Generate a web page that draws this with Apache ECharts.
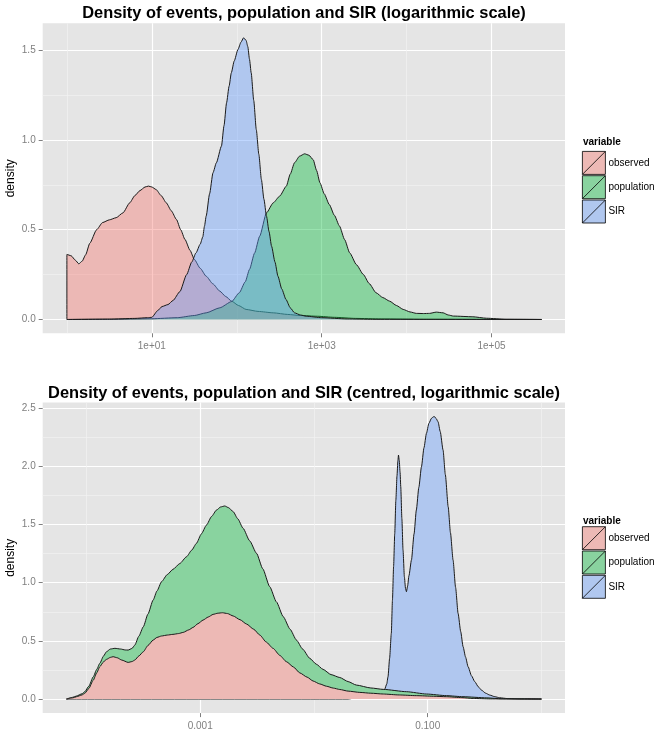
<!DOCTYPE html>
<html><head><meta charset="utf-8">
<script src="https://cdn.jsdelivr.net/npm/echarts@6/dist/echarts.min.js"></script>
<style>html,body{margin:0;padding:0;background:#fff}#c{width:661px;height:732px}</style>
</head><body><div id="c"></div>
<script>
// ---------- DATA ----------
const seriesNames = ['observed', 'population', 'SIR'];
const topTitle = 'Density of events, population and SIR (logarithmic scale)';
const bottomTitle = 'Density of events, population and SIR (centred, logarithmic scale)';
const legendTitle = 'variable';
const yName = 'density';

// Top chart: x = log10(value)
const topObservedX = [0,0,0.05,0.1,0.14,0.18,0.22,0.27,0.35,0.42,0.5,0.58,0.66,0.74,0.8,0.86,0.92,0.96,1.0,1.05,1.11,1.17,1.23,1.29,1.34,1.39,1.45,1.5,1.57,1.64,1.72,1.8,1.87,1.94,2.02,2.11,2.25,2.43,2.6,2.75,2.95,3.15,3.4,3.7,4.2,5.59];
const topObservedY = [0,0.362,0.355,0.33,0.31,0.325,0.36,0.425,0.5,0.54,0.555,0.567,0.594,0.65,0.69,0.718,0.738,0.743,0.738,0.724,0.69,0.65,0.605,0.557,0.5,0.446,0.385,0.335,0.285,0.241,0.198,0.158,0.128,0.102,0.078,0.056,0.045,0.037,0.028,0.022,0.018,0.012,0.006,0.003,0.001,0];
const topPopulationX = [0,0.5,1.0,1.3,1.5,1.64,1.8,1.94,2.03,2.1,2.15,2.21,2.27,2.35,2.43,2.505,2.584,2.63,2.68,2.74,2.8,2.85,2.9,2.94,2.98,3.03,3.09,3.15,3.21,3.27,3.33,3.41,3.49,3.56,3.64,3.72,3.8,3.88,3.96,4.04,4.115,4.2,4.27,4.35,4.43,4.49,4.55,4.78,4.94,5.17,5.59];
const topPopulationY = [0,0.001,0.004,0.01,0.022,0.037,0.065,0.1,0.149,0.21,0.279,0.37,0.464,0.594,0.65,0.687,0.743,0.81,0.873,0.91,0.923,0.915,0.89,0.83,0.761,0.7,0.64,0.58,0.52,0.445,0.371,0.305,0.251,0.2,0.149,0.122,0.102,0.078,0.056,0.042,0.034,0.033,0.034,0.041,0.037,0.025,0.019,0.015,0.007,0.001,0];
const topSirX = [0,0.5,0.8,0.95,1.0,1.07,1.12,1.19,1.25,1.33,1.41,1.47,1.52,1.57,1.6,1.62,1.64,1.68,1.72,1.76,1.82,1.85,1.88,1.91,1.936,1.97,2.014,2.05,2.08,2.11,2.13,2.15,2.17,2.2,2.23,2.26,2.29,2.32,2.35,2.38,2.41,2.45,2.485,2.53,2.58,2.63,2.68,2.75,2.82,3.0,3.3,3.6,5.59];
const topSirY = [0,0.002,0.006,0.01,0.012,0.05,0.072,0.083,0.106,0.155,0.25,0.32,0.371,0.42,0.46,0.52,0.576,0.7,0.817,0.873,0.966,1.08,1.207,1.3,1.374,1.44,1.504,1.545,1.569,1.555,1.52,1.45,1.374,1.22,1.058,0.92,0.78,0.67,0.576,0.49,0.408,0.32,0.241,0.17,0.111,0.065,0.037,0.025,0.018,0.01,0.003,0.001,0];

// Bottom chart (stacked densities, upper outline of each layer): x = log10(value)
const bottomObservedX = [-4.176,-4.12,-4.088,-4.04,-4.015,-3.98,-3.94,-3.91,-3.883,-3.85,-3.824,-3.79,-3.766,-3.73,-3.69,-3.634,-3.6,-3.575,-3.54,-3.5,-3.46,-3.414,-3.38,-3.34,-3.29,-3.24,-3.19,-3.15,-3.1,-3.063,-3.02,-2.975,-2.93,-2.887,-2.845,-2.805,-2.76,-2.71,-2.65,-2.593,-2.53,-2.476,-2.42,-2.36,-2.3,-2.242,-2.18,-2.125,-2.06,-2.008,-1.95,-1.89,-1.83,-1.773,-1.7,-1.597,-1.5,-1.39,-1.25,-1.1,-0.95,-0.835,-0.7,-0.6,-0.45,0];
const bottomObservedY = [0,0.01,0.02,0.035,0.049,0.09,0.163,0.225,0.278,0.32,0.341,0.358,0.364,0.355,0.335,0.315,0.322,0.335,0.37,0.407,0.46,0.507,0.53,0.542,0.55,0.556,0.563,0.573,0.595,0.616,0.648,0.679,0.705,0.728,0.738,0.742,0.735,0.714,0.682,0.645,0.6,0.55,0.49,0.436,0.375,0.321,0.275,0.225,0.188,0.155,0.13,0.11,0.094,0.082,0.068,0.057,0.05,0.043,0.035,0.029,0.024,0.02,0.012,0.005,0.001,0];
const bottomPopulationX = [-4.176,-4.12,-4.088,-4.04,-4.015,-3.98,-3.94,-3.91,-3.883,-3.85,-3.824,-3.79,-3.75,-3.7,-3.66,-3.634,-3.6,-3.575,-3.54,-3.5,-3.46,-3.414,-3.38,-3.34,-3.29,-3.24,-3.18,-3.12,-3.075,-3.033,-2.99,-2.945,-2.9,-2.857,-2.82,-2.784,-2.75,-2.71,-2.67,-2.623,-2.565,-2.505,-2.45,-2.389,-2.33,-2.27,-2.21,-2.154,-2.1,-2.037,-1.98,-1.92,-1.85,-1.773,-1.7,-1.627,-1.5,-1.39,-1.187,-1.01,-0.835,-0.69,-0.48,-0.35,0];
const bottomPopulationY = [0,0.015,0.026,0.045,0.063,0.11,0.192,0.255,0.307,0.37,0.407,0.43,0.436,0.43,0.422,0.421,0.435,0.464,0.54,0.622,0.73,0.851,0.93,1.009,1.07,1.115,1.165,1.224,1.28,1.339,1.42,1.496,1.57,1.625,1.652,1.66,1.645,1.611,1.55,1.468,1.36,1.253,1.12,0.966,0.835,0.708,0.6,0.507,0.43,0.35,0.3,0.255,0.21,0.185,0.15,0.12,0.095,0.083,0.063,0.043,0.029,0.02,0.01,0.002,0];
const bottomSirX = [-4.176,-1.7,-1.42,-1.38,-1.36,-1.349,-1.335,-1.32,-1.31,-1.3,-1.29,-1.28,-1.27,-1.262,-1.257,-1.25,-1.243,-1.237,-1.227,-1.217,-1.205,-1.195,-1.187,-1.177,-1.165,-1.143,-1.12,-1.1,-1.078,-1.055,-1.033,-1.011,-0.99,-0.967,-0.95,-0.938,-0.925,-0.909,-0.89,-0.865,-0.845,-0.82,-0.8,-0.777,-0.755,-0.733,-0.71,-0.689,-0.667,-0.645,-0.615,-0.586,-0.555,-0.528,-0.49,-0.455,-0.41,-0.367,-0.3,-0.2,0];
const bottomSirY = [0,0,0.075,0.08,0.13,0.192,0.35,0.565,0.85,1.138,1.42,1.711,1.92,2.05,2.098,2.05,1.95,1.826,1.55,1.281,1.05,0.95,0.923,0.97,1.06,1.195,1.42,1.625,1.82,1.997,2.16,2.285,2.37,2.414,2.427,2.427,2.41,2.384,2.3,2.141,1.93,1.653,1.43,1.195,0.96,0.737,0.58,0.45,0.36,0.278,0.2,0.149,0.105,0.077,0.05,0.034,0.02,0.011,0.004,0.001,0];

// Axis ticks
const topXTickValues = [1, 3, 5];
const topXTickLabels = ['1e+01', '1e+03', '1e+05'];
const topXMinorValues = [0, 2, 4];
const topYTickValues = [0, 0.5, 1, 1.5];
const topYMinorValues = [0.25, 0.75, 1.25];
const bottomXTickValues = [-3, -1];
const bottomXTickLabels = ['0.001', '0.100'];
const bottomXMinorValues = [-4, -2, 0];
const bottomYTickValues = [0, 0.5, 1, 1.5, 2, 2.5];
const bottomYMinorValues = [0.25, 0.75, 1.25, 1.75, 2.25];

// ---------- STYLE ----------
const alphaFills = ['rgba(248,118,109,0.4)', 'rgba(0,186,56,0.4)', 'rgba(97,156,255,0.4)'];
const solidFills = ['#EDB9B5', '#89D39F', '#B0C7EF'];
const FONT = '"Liberation Sans", Arial, sans-serif';
const GRID_L = 42.7, GRID_W = 522.3;
const TOP_T = 23.3, TOP_H = 310, BOT_T = 402.6, BOT_H = 310.5;

function zip(xs, ys) { return xs.map((x, i) => [x, ys[i]]); }

function majorAxis(gridIndex, min, max, ticks, labelFn, isY) {
  return {
    type: 'value', gridIndex, min, max, scale: false,
    position: isY ? 'left' : 'bottom',
    axisLine: { show: false, onZero: false },
    axisTick: { show: true, length: 4, customValues: ticks, lineStyle: { color: '#7F7F7F', width: 1 } },
    axisLabel: { show: true, customValues: ticks, margin: isY ? 7 : 8, color: '#7F7F7F', fontSize: 10, fontFamily: FONT, formatter: labelFn, hideOverlap: false, showMinLabel: true, showMaxLabel: true },
    splitLine: { show: true, lineStyle: { color: '#FFFFFF', width: 1.2 } }
  };
}
function minorAxis(gridIndex, min, max, ticks, isY) {
  return {
    type: 'value', gridIndex, min, max,
    position: isY ? 'left' : 'bottom',
    axisLine: { show: false, onZero: false },
    axisTick: { show: false, customValues: ticks },
    axisLabel: { show: false, customValues: ticks },
    splitLine: { show: true, lineStyle: { color: '#F2F2F2', width: 0.7 } },
    z: 0
  };
}

const xLab = (vals, labs) => (v) => { const i = vals.findIndex(t => Math.abs(t - v) < 1e-6); return i >= 0 ? labs[i] : ''; };
const yLab = (v) => v.toFixed(1);

const topData = [zip(topObservedX, topObservedY), zip(topPopulationX, topPopulationY), zip(topSirX, topSirY)];
const bottomData = [zip(bottomObservedX, bottomObservedY), zip(bottomPopulationX, bottomPopulationY), zip(bottomSirX, bottomSirY)];

const series = [];
seriesNames.forEach((n, i) => {
  series.push({
    type: 'line', name: n, xAxisIndex: 0, yAxisIndex: 0, data: topData[i],
    showSymbol: false, symbol: 'none', smooth: 0.2, smoothMonotone: 'x',
    lineStyle: { color: '#1a1a1a', width: 1 },
    itemStyle: { color: alphaFills[i] },
    areaStyle: { color: alphaFills[i], opacity: 1 },
    emphasis: { disabled: true }, silent: true, z: 2 + i
  });
});
// stacked look: draw the outer (SIR) layer first, then population, then observed
[2, 1, 0].forEach((i, k) => {
  series.push({
    type: 'line', name: seriesNames[i], xAxisIndex: 2, yAxisIndex: 2, data: bottomData[i],
    showSymbol: false, symbol: 'none', smooth: 0.2, smoothMonotone: 'x',
    lineStyle: { color: '#1a1a1a', width: 1 },
    itemStyle: { color: solidFills[i] },
    areaStyle: { color: solidFills[i], opacity: 1 },
    emphasis: { disabled: true }, silent: true, z: 2 + k
  });
});

const legendIcon = 'path://M0,0L24,0L24,24L0,24ZM0,24L24,0';
function makeLegend(top) {
  return {
    orient: 'vertical', left: 582, top, padding: 0, itemGap: 0.5,
    itemWidth: 23, itemHeight: 23, icon: legendIcon, selectedMode: false,
    textStyle: { fontSize: 10, color: '#000', fontFamily: FONT, padding: [0, 0, 0, -2] },
    data: seriesNames.map((n, i) => ({ name: n, itemStyle: { color: solidFills[i], borderColor: '#000', borderWidth: 0.8 } }))
  };
}

function txt(text, x, y, font, align, rotation) {
  return { type: 'text', x, y, rotation: rotation || 0, silent: true,
    style: { text, font, fill: '#000', align, verticalAlign: 'middle', textAlign: align, textVerticalAlign: 'middle' } };
}

const option = {
  animation: false,
  backgroundColor: '#FFFFFF',
  grid: [
    { left: GRID_L, top: TOP_T, width: GRID_W, height: TOP_H, show: true, backgroundColor: '#E5E5E5', borderWidth: 0, containLabel: false, outerBoundsMode: 'none' },
    { left: GRID_L, top: BOT_T, width: GRID_W, height: BOT_H, show: true, backgroundColor: '#E5E5E5', borderWidth: 0, containLabel: false, outerBoundsMode: 'none' }
  ],
  xAxis: [
    majorAxis(0, -0.285, 5.865, topXTickValues, xLab(topXTickValues, topXTickLabels), false),
    minorAxis(0, -0.285, 5.865, topXMinorValues, false),
    majorAxis(1, -4.385, 0.207, bottomXTickValues, xLab(bottomXTickValues, bottomXTickLabels), false),
    minorAxis(1, -4.385, 0.207, bottomXMinorValues, false)
  ],
  yAxis: [
    majorAxis(0, -0.077, 1.65, topYTickValues, yLab, true),
    minorAxis(0, -0.077, 1.65, topYMinorValues, true),
    majorAxis(1, -0.121, 2.549, bottomYTickValues, yLab, true),
    minorAxis(1, -0.121, 2.549, bottomYMinorValues, true)
  ],
  legend: [makeLegend(151), makeLegend(526.3)],
  series,
  graphic: [
    txt(topTitle, 304, 13.7, 'bold 16.4px ' + FONT, 'center'),
    txt(bottomTitle, 304, 393, 'bold 16.4px ' + FONT, 'center'),
    txt(legendTitle, 583, 142, 'bold 10px ' + FONT, 'left'),
    txt(legendTitle, 583, 521, 'bold 10px ' + FONT, 'left'),
    txt(yName, 11, TOP_T + TOP_H / 2, '12px ' + FONT, 'center', Math.PI / 2),
    txt(yName, 11, BOT_T + BOT_H / 2, '12px ' + FONT, 'center', Math.PI / 2)
  ]
};

const chart = echarts.init(document.getElementById('c'), null, { renderer: 'canvas' });
chart.setOption(option);
</script></body></html>
